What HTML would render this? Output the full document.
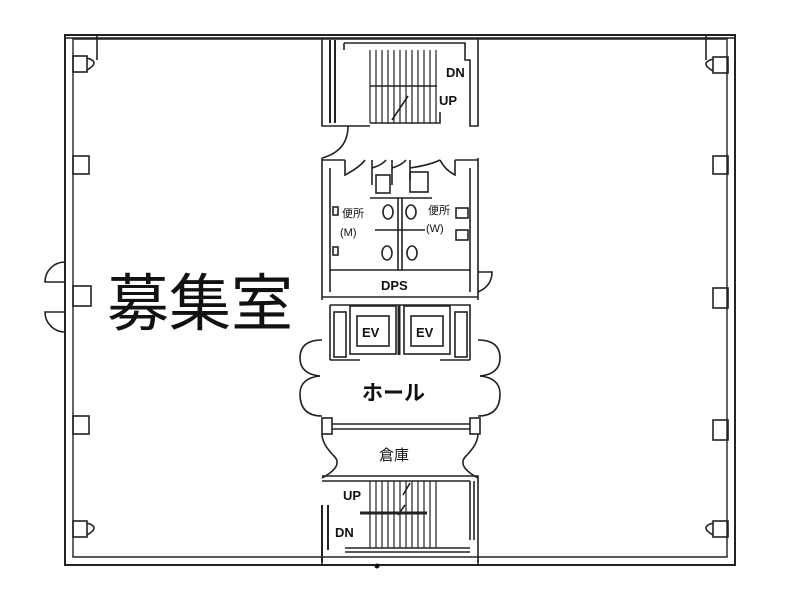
<!DOCTYPE html>
<html><head><meta charset="utf-8"><style>
html,body{margin:0;padding:0;background:#fff;width:787px;height:603px;overflow:hidden}
svg{display:block}
text{font-family:"Liberation Sans","Noto Sans CJK JP",sans-serif;fill:#111}
</style></head><body>
<svg width="787" height="603" viewBox="0 0 787 603" xmlns="http://www.w3.org/2000/svg">
<g fill="none" stroke="#222" stroke-width="1.6">
<!-- outer walls -->
<path d="M65 35 H735 V565 H65 Z" stroke-width="2"/>
<path d="M73 39 H727 V557 H73 Z" stroke-width="1.4"/>
<line x1="65" y1="38" x2="735" y2="38"/>
<line x1="97" y1="35" x2="97" y2="60"/>
<line x1="706" y1="35" x2="706" y2="60"/>
<!-- left columns -->
<rect x="73" y="56" width="14" height="16"/><path d="M87 58 q14 4 0 12"/>
<rect x="73" y="156" width="16" height="18"/>
<rect x="73" y="286" width="18" height="20"/>
<path d="M65 262 a20 20 0 0 0 -20 20 h20 M65 332 a20 20 0 0 1 -20 -20 h20"/>
<rect x="73" y="416" width="16" height="18"/>
<rect x="73" y="521" width="14" height="16"/><path d="M87 523 q14 4 0 12"/>
<!-- right columns -->
<rect x="713" y="57" width="15" height="16"/><path d="M713 59 q-14 4 0 12"/>
<rect x="713" y="156" width="15" height="18"/>
<rect x="713" y="288" width="15" height="20"/>
<rect x="713" y="420" width="15" height="20"/>
<rect x="713" y="521" width="15" height="16"/><path d="M713 523 q-14 4 0 12"/>
<!-- top stair -->
<path d="M322 38 V126 H370 M322 126 V38 M478 38 V126 H470 V95 M478 38"/>
<path d="M330 40 V123 M335 40 V123" stroke-width="2"/>
<path d="M344 43 H465 V60 H470 V95"/>
<path d="M344 43 V50"/>
<path d="M370 123 H440 V112"/>
<g stroke-width="1.2"><path d="M370 50 V123 M376 50 V123 M382 50 V123 M388 50 V123 M394 50 V123 M400 50 V123 M406 50 V123 M412 50 V123 M418 50 V123 M424 50 V123 M430 50 V123 M436 50 V123"/></g>
<line x1="370" y1="86" x2="437" y2="86" stroke-width="1.6"/>
<path d="M392 120 L408 96"/>
<path d="M348 126 q0 25 -26 32"/>
<!-- toilet block -->
<path d="M322 158 V300 M478 158 V300 M330 168 V292 M470 168 V292"/>
<path d="M322 160 H345 M455 160 H478"/>
<path d="M345 160 v15 q15 -8 20 -15 M372 160 v25 M372 168 q10 -3 14 -8 M392 160 v25 M392 168 q10 -3 14 -8 M410 160 v20 M410 168 q20 -3 30 -8 M455 160 v15 q-10 -5 -15 -15"/>
<rect x="376" y="175" width="14" height="18"/><rect x="410" y="172" width="18" height="20"/>
<path d="M370 198 H432 M398 198 V270 M402 198 V270"/>
<path d="M330 270 H470"/>
<rect x="333" y="207" width="5" height="8"/><rect x="333" y="247" width="5" height="8"/>
<rect x="456" y="208" width="12" height="10"/><rect x="456" y="230" width="12" height="10"/>
<ellipse cx="388" cy="212" rx="5" ry="7"/><ellipse cx="411" cy="212" rx="5" ry="7"/>
<ellipse cx="387" cy="253" rx="5" ry="7"/><ellipse cx="412" cy="253" rx="5" ry="7"/>
<line x1="375" y1="230" x2="425" y2="230"/>
<path d="M478 272 h14 q0 14 -14 20"/>
<path d="M322 297 H478"/>
<!-- EV block -->
<path d="M330 305 H470 V360 M330 305 V360"/>
<rect x="334" y="312" width="12" height="45"/><rect x="455" y="312" width="12" height="45"/>
<rect x="350" y="306" width="46" height="48"/><rect x="404" y="306" width="46" height="48"/>
<rect x="357" y="316" width="32" height="30"/><rect x="411" y="316" width="32" height="30"/>
<line x1="399" y1="305" x2="399" y2="355" stroke-width="3"/>
<path d="M330 360 H360 M440 360 H470"/>
<!-- hall bulges -->
<path d="M322 340 q-22 0 -22 18 q0 16 20 18 q-20 2 -20 18 q0 22 22 22 M478 340 q22 0 22 18 q0 16 -20 18 q20 2 20 18 q0 22 -22 22"/>
<!-- storage -->
<rect x="322" y="418" width="10" height="16"/><rect x="470" y="418" width="10" height="16"/>
<path d="M332 424 H470 M332 429 H470"/>
<path d="M322 434 q0 10 12 22 q10 10 -12 22 M478 434 q0 10 -12 22 q-10 10 12 22"/>
<!-- bottom stair -->
<path d="M322 476 H478 V562 M322 481 H470"/>
<path d="M322 505 V562 M328 505 V550" stroke-width="2"/>
<path d="M470 481 V540 M474 481 V540"/>
<path d="M345 548 H470 M345 552 H470"/>
<g stroke-width="1.2"><path d="M370 481 V548 M376 481 V548 M382 481 V548 M388 481 V548 M394 481 V548 M400 481 V548 M406 481 V548 M412 481 V548 M418 481 V548 M424 481 V548 M430 481 V548 M436 481 V548"/></g>
<line x1="360" y1="513" x2="427" y2="513" stroke-width="3"/>
<path d="M403 495 L410 483 M405 505 L398 515"/>
<path d="M322 560 V565 M478 560 V565"/>
</g>
<circle cx="377" cy="566" r="2.5" fill="#111"/>
<text x="446" y="77" font-size="13" font-weight="bold">DN</text>
<text x="439" y="105" font-size="13" font-weight="bold">UP</text>
<text x="342" y="217" font-size="11">便所</text>
<text x="340" y="236" font-size="11">(M)</text>
<text x="428" y="214" font-size="11">便所</text>
<text x="426" y="232" font-size="11">(W)</text>
<text x="381" y="290" font-size="13" font-weight="bold">DPS</text>
<text x="362" y="337" font-size="13" font-weight="bold">EV</text>
<text x="416" y="337" font-size="13" font-weight="bold">EV</text>
<text x="362" y="400" font-size="21" font-weight="bold">ホール</text>
<text x="379" y="460" font-size="15">倉庫</text>
<text x="343" y="500" font-size="13" font-weight="bold">UP</text>
<text x="335" y="537" font-size="13" font-weight="bold">DN</text>
<text x="107" y="325" font-size="62">募集室</text>
</svg>
</body></html>
